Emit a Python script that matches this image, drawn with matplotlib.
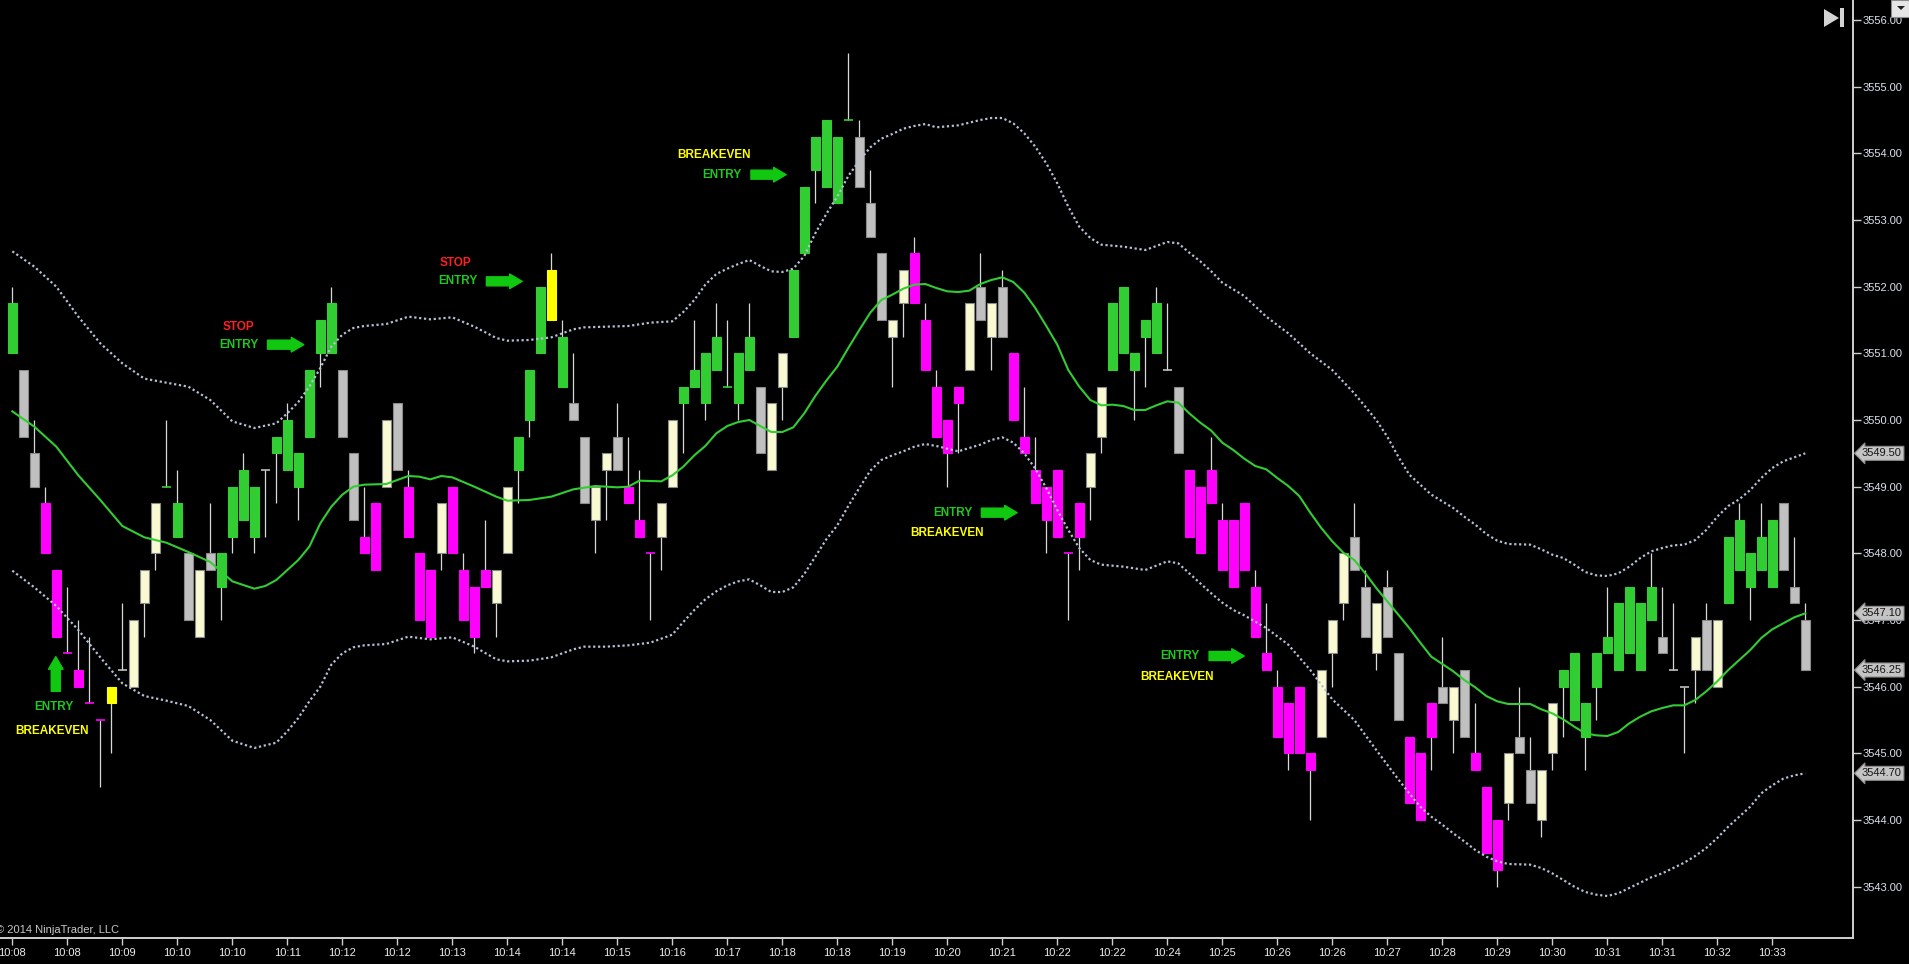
import matplotlib
matplotlib.use('Agg')
import matplotlib.pyplot as plt
from matplotlib.patches import Polygon, Rectangle
import numpy as np

plt.rcParams['font.family'] = ['Liberation Sans', 'DejaVu Sans']

# ---- bar data (one entry per bar, left to right) ----
# paint codes: G green, M magenta, S gray, C cream, Y yellow (signal bar)
paint = ("GSSMMMMMMY" "SCCCGGSCSG" "GGGSGGGGGG" "SSMMCSMMMC" "MMMMCCGGGY"
         "GSSCCSMMMC" "CGGGGGGGSC" "CGGGGGGSSS" "CCMMMMMCSC" "SMMMMMMMCC"
         "GGGGGSSMMM" "MMMMMMMMMC" "CCSSCSSMMM" "SCSMMMCSSC" "CGGGGGGGGG"
         "SSSCSCGGGG" "GSSS")

opens = [
    3551.0, 3550.75, 3549.5, 3548.75, 3547.75, 3546.5, 3546.25, 3545.75, 3545.5, 3545.75,
    3546.25, 3546.0, 3547.25, 3548.0, 3549.0, 3548.25, 3548.0, 3546.75, 3548.0, 3547.5,
    3548.25, 3548.5, 3548.25, 3549.25, 3549.5, 3549.25, 3549.0, 3549.75, 3551.0, 3551.0,
    3550.75, 3549.5, 3548.25, 3548.75, 3549.0, 3550.25, 3549.0, 3548.0, 3547.75, 3548.0,
    3549.0, 3547.75, 3547.5, 3547.75, 3547.25, 3548.0, 3549.25, 3550.0, 3551.0, 3551.5,
    3550.5, 3550.25, 3549.75, 3548.5, 3549.25, 3549.75, 3549.0, 3548.5, 3548.0, 3548.25,
    3549.0, 3550.25, 3550.5, 3550.25, 3550.75, 3550.5, 3550.25, 3550.75, 3550.5, 3549.25,
    3550.5, 3551.25, 3552.5, 3553.75, 3553.5, 3553.25, 3554.5, 3554.25, 3553.25, 3552.5,
    3551.25, 3551.75, 3552.5, 3551.5, 3550.5, 3550.0, 3550.5, 3550.75, 3552.0, 3551.25,
    3552.0, 3551.0, 3549.75, 3549.25, 3549.0, 3549.25, 3548.0, 3548.75, 3549.0, 3549.75,
    3550.75, 3551.0, 3550.75, 3551.25, 3551.0, 3550.75, 3550.5, 3549.25, 3549.0, 3549.25,
    3548.5, 3548.5, 3548.75, 3547.5, 3546.5, 3546.0, 3545.75, 3546.0, 3545.0, 3545.25,
    3546.5, 3547.25, 3548.25, 3547.5, 3546.5, 3547.5, 3546.5, 3545.25, 3545.0, 3545.75,
    3546.0, 3545.5, 3546.25, 3545.0, 3544.5, 3544.0, 3544.25, 3545.25, 3544.75, 3544.0,
    3545.0, 3546.0, 3545.5, 3545.25, 3546.0, 3546.5, 3546.25, 3546.5, 3546.25, 3547.0,
    3546.75, 3546.25, 3546.0, 3546.25, 3547.0, 3546.0, 3547.25, 3547.75, 3547.5, 3547.75,
    3547.5, 3548.75, 3547.5, 3547.0]

highs = [
    3552.0, 3550.75, 3550.0, 3549.0, 3547.75, 3547.5, 3547.0, 3546.75, 3545.5, 3546.0,
    3547.25, 3547.0, 3547.75, 3548.75, 3550.0, 3549.25, 3548.0, 3547.75, 3548.75, 3548.0,
    3549.0, 3549.5, 3549.0, 3549.25, 3549.75, 3550.25, 3549.5, 3550.75, 3551.5, 3552.0,
    3550.75, 3549.5, 3549.0, 3548.75, 3550.0, 3550.25, 3549.25, 3548.0, 3547.75, 3548.75,
    3549.0, 3548.0, 3547.5, 3548.5, 3547.75, 3549.0, 3549.75, 3550.75, 3552.0, 3552.5,
    3551.5, 3551.0, 3549.75, 3549.0, 3549.5, 3550.25, 3549.75, 3549.25, 3548.0, 3548.75,
    3550.0, 3550.5, 3551.5, 3551.0, 3551.75, 3551.5, 3551.0, 3551.75, 3550.5, 3550.25,
    3551.0, 3552.25, 3553.5, 3554.25, 3554.5, 3554.25, 3555.5, 3554.5, 3553.75, 3552.5,
    3551.5, 3552.25, 3552.75, 3551.75, 3550.75, 3550.0, 3550.5, 3551.75, 3552.5, 3551.75,
    3552.25, 3551.0, 3550.5, 3549.75, 3549.0, 3549.25, 3548.0, 3548.75, 3549.5, 3550.5,
    3551.75, 3552.0, 3551.0, 3551.5, 3552.0, 3551.75, 3550.5, 3549.25, 3549.0, 3549.75,
    3548.75, 3548.5, 3548.75, 3547.75, 3547.25, 3546.25, 3545.75, 3546.0, 3545.0, 3546.25,
    3547.0, 3548.0, 3548.75, 3547.75, 3547.25, 3547.75, 3546.5, 3545.25, 3545.0, 3545.75,
    3546.75, 3546.0, 3546.25, 3545.75, 3544.5, 3544.0, 3545.0, 3546.0, 3545.25, 3544.75,
    3545.75, 3546.25, 3546.5, 3545.75, 3546.5, 3547.5, 3547.25, 3547.5, 3547.25, 3548.0,
    3547.5, 3547.25, 3546.0, 3546.75, 3547.25, 3547.0, 3548.25, 3548.75, 3548.0, 3548.75,
    3548.5, 3548.75, 3548.25, 3547.25]

lows = [
    3551.0, 3549.75, 3549.0, 3548.0, 3546.75, 3546.5, 3546.0, 3545.75, 3544.5, 3545.0,
    3546.25, 3546.0, 3546.75, 3547.75, 3549.0, 3548.25, 3547.0, 3546.75, 3547.75, 3547.0,
    3548.0, 3548.5, 3548.0, 3548.25, 3548.75, 3549.25, 3548.5, 3549.75, 3550.5, 3551.0,
    3549.75, 3548.5, 3548.0, 3547.75, 3549.0, 3549.25, 3548.25, 3547.0, 3546.75, 3547.75,
    3548.0, 3547.0, 3546.5, 3547.5, 3546.75, 3548.0, 3548.75, 3549.75, 3551.0, 3551.5,
    3550.5, 3550.0, 3548.75, 3548.0, 3548.5, 3549.25, 3548.75, 3548.25, 3547.0, 3547.75,
    3549.0, 3549.5, 3550.5, 3550.0, 3550.75, 3550.5, 3550.0, 3550.75, 3549.5, 3549.25,
    3550.0, 3551.25, 3552.5, 3553.25, 3553.5, 3553.25, 3554.5, 3553.5, 3552.75, 3551.5,
    3550.5, 3551.25, 3551.75, 3550.75, 3549.75, 3549.0, 3549.5, 3550.75, 3551.5, 3550.75,
    3551.25, 3550.0, 3549.5, 3548.75, 3548.0, 3548.25, 3547.0, 3547.75, 3548.5, 3549.5,
    3550.75, 3551.0, 3550.0, 3550.5, 3551.0, 3550.75, 3549.5, 3548.25, 3548.0, 3548.75,
    3547.75, 3547.5, 3547.75, 3546.75, 3546.25, 3545.25, 3544.75, 3545.0, 3544.0, 3545.25,
    3546.0, 3547.0, 3547.75, 3546.75, 3546.25, 3546.75, 3545.5, 3544.25, 3544.0, 3544.75,
    3545.75, 3545.0, 3545.25, 3544.75, 3543.5, 3543.0, 3544.0, 3545.0, 3544.25, 3543.75,
    3544.75, 3545.25, 3545.5, 3544.75, 3545.5, 3546.5, 3546.25, 3546.5, 3546.25, 3547.0,
    3546.5, 3546.25, 3545.0, 3545.75, 3546.25, 3546.0, 3547.25, 3547.75, 3547.0, 3547.75,
    3547.5, 3547.75, 3547.25, 3546.25]

closes = [
    3551.75, 3549.75, 3549.0, 3548.0, 3546.75, 3546.5, 3546.0, 3545.75, 3545.5, 3546.0,
    3546.25, 3547.0, 3547.75, 3548.75, 3549.0, 3548.75, 3547.0, 3547.75, 3547.75, 3548.0,
    3549.0, 3549.25, 3549.0, 3549.25, 3549.75, 3550.0, 3549.5, 3550.75, 3551.5, 3551.75,
    3549.75, 3548.5, 3548.0, 3547.75, 3550.0, 3549.25, 3548.25, 3547.0, 3546.75, 3548.75,
    3548.0, 3547.0, 3546.75, 3547.5, 3547.75, 3549.0, 3549.75, 3550.75, 3552.0, 3552.25,
    3551.25, 3550.0, 3548.75, 3549.0, 3549.5, 3549.25, 3548.75, 3548.25, 3548.0, 3548.75,
    3550.0, 3550.5, 3550.75, 3551.0, 3551.25, 3550.5, 3551.0, 3551.25, 3549.5, 3550.25,
    3551.0, 3552.25, 3553.5, 3554.25, 3554.5, 3554.25, 3554.5, 3553.5, 3552.75, 3551.5,
    3551.5, 3552.25, 3551.75, 3550.75, 3549.75, 3549.5, 3550.25, 3551.75, 3551.5, 3551.75,
    3551.25, 3550.0, 3549.5, 3548.75, 3548.5, 3548.25, 3548.0, 3548.25, 3549.5, 3550.5,
    3551.75, 3552.0, 3551.0, 3551.5, 3551.75, 3550.75, 3549.5, 3548.25, 3548.0, 3548.75,
    3547.75, 3547.5, 3547.75, 3546.75, 3546.25, 3545.25, 3545.0, 3545.0, 3544.75, 3546.25,
    3547.0, 3548.0, 3547.75, 3546.75, 3547.25, 3546.75, 3545.5, 3544.25, 3544.0, 3545.25,
    3545.75, 3546.0, 3545.25, 3544.75, 3543.5, 3543.25, 3545.0, 3545.0, 3544.25, 3544.75,
    3545.75, 3546.25, 3546.5, 3545.75, 3546.5, 3546.75, 3547.25, 3547.5, 3547.25, 3547.5,
    3546.5, 3546.25, 3546.0, 3546.75, 3546.25, 3547.0, 3548.25, 3548.5, 3548.0, 3548.25,
    3548.5, 3547.75, 3547.25, 3546.25]

# ---- indicator readings (bar index, value) ----
mid_idx = [0, 2, 4, 6, 8, 10, 12, 14, 16, 18, 20, 22, 23, 24, 26, 27, 28, 29, 30, 31,
           32, 34, 36, 37, 38, 39, 40, 42, 44, 45, 47, 49, 51, 53, 55, 56, 57, 59, 60, 61,
           62, 63, 64, 65, 66, 67, 68, 69, 70, 71, 72, 73, 74, 75, 76, 77, 78, 79, 80, 81,
           82, 83, 84, 85, 86, 87, 88, 89, 90, 91, 92, 93, 94, 95, 96, 97, 98, 99, 100, 101,
           102, 103, 104, 105, 106, 107, 108, 109, 110, 111, 112, 113, 114, 115, 116, 117,
           118, 119, 120, 121, 122, 123, 124, 125, 126, 127, 128, 129, 130, 131, 132, 133,
           134, 135, 136, 138, 139, 140, 141, 142, 143, 144, 145, 146, 147, 148, 149, 150,
           151, 152, 153, 154, 155, 156, 157, 158, 159, 160, 161, 162, 163]
mid_val = [3550.13, 3549.9, 3549.6, 3549.17, 3548.8, 3548.41, 3548.24, 3548.16, 3548.02, 3547.87,
           3547.58, 3547.47, 3547.51, 3547.6, 3547.9, 3548.1, 3548.45, 3548.7, 3548.88, 3549.0,
           3549.03, 3549.04, 3549.16, 3549.15, 3549.11, 3549.16, 3549.14, 3549.0, 3548.85, 3548.79,
           3548.8, 3548.85, 3548.96, 3549.01, 3548.99, 3549.0, 3549.09, 3549.08, 3549.17, 3549.3,
           3549.47, 3549.61, 3549.8, 3549.91, 3549.97, 3550.0, 3549.91, 3549.82, 3549.82, 3549.89,
           3550.1, 3550.36, 3550.59, 3550.8, 3551.08, 3551.35, 3551.61, 3551.8, 3551.88, 3551.97,
           3552.03, 3552.04, 3551.98, 3551.93, 3551.92, 3551.94, 3552.04, 3552.1, 3552.14, 3552.07,
           3551.91, 3551.68, 3551.41, 3551.13, 3550.75, 3550.5, 3550.3, 3550.22, 3550.23, 3550.21,
           3550.15, 3550.15, 3550.22, 3550.28, 3550.26, 3550.1, 3549.96, 3549.84, 3549.66, 3549.55,
           3549.42, 3549.31, 3549.26, 3549.13, 3549.01, 3548.86, 3548.61, 3548.38, 3548.18, 3548.01,
           3547.9, 3547.7, 3547.48, 3547.28, 3547.08, 3546.88, 3546.66, 3546.45, 3546.34, 3546.23,
           3546.1, 3545.99, 3545.86, 3545.78, 3545.74, 3545.74, 3545.66, 3545.6, 3545.51, 3545.4,
           3545.3, 3545.27, 3545.26, 3545.32, 3545.45, 3545.55, 3545.63, 3545.68, 3545.72, 3545.72,
           3545.8, 3545.93, 3546.08, 3546.25, 3546.4, 3546.55, 3546.73, 3546.86, 3546.95, 3547.04,
           3547.1]

upper_idx = [0, 2, 4, 6, 8, 10, 12, 14, 16, 18, 20, 22, 24, 25, 26, 27, 28, 29, 30, 31,
             32, 34, 36, 38, 40, 42, 44, 45, 47, 49, 51, 52, 54, 56, 58, 60, 61, 62, 63, 64,
             65, 66, 67, 68, 69, 70, 71, 72, 73, 74, 75, 76, 77, 78, 79, 80, 81, 82, 83, 84,
             86, 88, 89, 90, 91, 92, 93, 94, 95, 96, 97, 98, 99, 101, 103, 105, 106, 107, 108,
             109, 110, 111, 112, 114, 116, 118, 120, 122, 124, 125, 126, 127, 128, 129, 130,
             131, 132, 133, 134, 135, 136, 138, 139, 140, 141, 142, 143, 144, 145, 146, 147,
             148, 149, 150, 151, 152, 153, 154, 155, 156, 157, 158, 159, 160, 161, 162, 163]
upper_val = [3552.53, 3552.3, 3552.0, 3551.55, 3551.15, 3550.85, 3550.62, 3550.56, 3550.5, 3550.3,
             3549.98, 3549.88, 3549.95, 3550.1, 3550.27, 3550.5, 3550.78, 3551.1, 3551.28, 3551.38,
             3551.41, 3551.44, 3551.55, 3551.51, 3551.54, 3551.4, 3551.23, 3551.19, 3551.2, 3551.24,
             3551.36, 3551.39, 3551.4, 3551.41, 3551.46, 3551.48, 3551.62, 3551.8, 3552.03, 3552.19,
             3552.27, 3552.34, 3552.4, 3552.31, 3552.23, 3552.22, 3552.27, 3552.46, 3552.8, 3553.09,
             3553.35, 3553.66, 3553.89, 3554.09, 3554.22, 3554.29, 3554.37, 3554.41, 3554.44, 3554.39,
             3554.42, 3554.5, 3554.53, 3554.53, 3554.45, 3554.3, 3554.1, 3553.85, 3553.55, 3553.2,
             3552.9, 3552.73, 3552.63, 3552.6, 3552.55, 3552.67, 3552.65, 3552.51, 3552.38,
             3552.23, 3552.06, 3551.96, 3551.86, 3551.55, 3551.3, 3551.0, 3550.75, 3550.4, 3550.0, 3549.75,
             3549.45, 3549.18, 3549.03, 3548.88, 3548.78, 3548.68, 3548.55, 3548.43, 3548.29, 3548.19,
             3548.14, 3548.13, 3548.06, 3547.98, 3547.93, 3547.83, 3547.72, 3547.67, 3547.66, 3547.7,
             3547.8, 3547.93, 3548.03, 3548.08, 3548.12, 3548.13, 3548.2, 3548.35, 3548.55, 3548.71,
             3548.81, 3548.95, 3549.13, 3549.28, 3549.38, 3549.44, 3549.5]

lower_idx = [0, 2, 4, 6, 8, 10, 12, 14, 16, 18, 20, 22, 24, 25, 26, 27, 28, 29, 30, 31,
             32, 34, 36, 38, 40, 42, 44, 45, 47, 49, 51, 52, 54, 56, 58, 60, 61, 62, 63, 64,
             65, 66, 67, 68, 69, 70, 71, 72, 73, 74, 75, 76, 77, 78, 79, 80, 81, 82, 83, 84,
             86, 88, 89, 90, 91, 92, 93, 94, 95, 96, 97, 98, 99, 101, 103, 105, 106, 107, 108,
             109, 110, 111, 112, 114, 116, 118, 120, 122, 124, 125, 126, 127, 128, 129, 130,
             131, 132, 133, 134, 135, 136, 138, 139, 140, 141, 142, 143, 144, 145, 146, 147,
             148, 149, 150, 151, 152, 153, 154, 155, 156, 157, 158, 159, 160, 161, 162, 163]
lower_val = [3547.74, 3547.49, 3547.21, 3546.85, 3546.44, 3546.05, 3545.86, 3545.79, 3545.71, 3545.5,
             3545.19, 3545.08, 3545.16, 3545.33, 3545.53, 3545.78, 3546.0, 3546.33, 3546.5, 3546.59,
             3546.62, 3546.64, 3546.75, 3546.71, 3546.74, 3546.6, 3546.41, 3546.38, 3546.39, 3546.44,
             3546.56, 3546.6, 3546.6, 3546.62, 3546.66, 3546.78, 3546.97, 3547.15, 3547.31, 3547.43,
             3547.52, 3547.58, 3547.61, 3547.52, 3547.42, 3547.42, 3547.49, 3547.69, 3547.95, 3548.21,
             3548.42, 3548.71, 3548.98, 3549.24, 3549.4, 3549.47, 3549.53, 3549.6, 3549.64, 3549.61,
             3549.53, 3549.63, 3549.7, 3549.74, 3549.66, 3549.5, 3549.27, 3548.98, 3548.65, 3548.35,
             3548.08, 3547.9, 3547.83, 3547.8, 3547.75, 3547.88, 3547.85, 3547.7, 3547.55,
             3547.4, 3547.26, 3547.15, 3547.07, 3546.88, 3546.63, 3546.25, 3545.81, 3545.5, 3545.05, 3544.83,
             3544.61, 3544.4, 3544.2, 3544.05, 3543.93, 3543.8, 3543.68, 3543.55, 3543.45, 3543.38,
             3543.34, 3543.33, 3543.28, 3543.2, 3543.1, 3543.0, 3542.92, 3542.88, 3542.86, 3542.9,
             3542.98, 3543.06, 3543.14, 3543.2, 3543.28, 3543.36, 3543.46, 3543.58, 3543.73, 3543.9,
             3544.05, 3544.2, 3544.4, 3544.52, 3544.62, 3544.67, 3544.7]

time_labels = ['10:08', '10:08', '10:09', '10:10', '10:10', '10:11', '10:12', '10:12', '10:13',
               '10:14', '10:14', '10:15', '10:16', '10:17', '10:18', '10:18', '10:19', '10:20',
               '10:21', '10:22', '10:22', '10:24', '10:25', '10:26', '10:26', '10:27', '10:28',
               '10:29', '10:30', '10:31', '10:31', '10:32', '10:33']

# trade markers: (text, bar position, price level, colour)
marker_texts = [
    ('ENTRY', 3.8, 3545.70, '#1ec81e'), ('BREAKEVEN', 3.65, 3545.33, '#ffff00'),
    ('STOP', 20.55, 3551.40, '#ff2020'), ('ENTRY', 20.6, 3551.13, '#1ec81e'),
    ('STOP', 40.3, 3552.36, '#ff2020'), ('ENTRY', 40.5, 3552.08, '#1ec81e'),
    ('BREAKEVEN', 63.75, 3553.97, '#ffff00'), ('ENTRY', 64.5, 3553.68, '#1ec81e'),
    ('ENTRY', 85.5, 3548.61, '#1ec81e'), ('BREAKEVEN', 85.0, 3548.30, '#ffff00'),
    ('ENTRY', 106.1, 3546.46, '#1ec81e'), ('BREAKEVEN', 105.9, 3546.15, '#ffff00'),
]
# arrows: (tail x, tail y, head x, head y)
marker_arrows = [
    (3.95, 3545.93, 3.95, 3546.45),
    (23.2, 3551.13, 26.5, 3551.13),
    (43.1, 3552.08, 46.35, 3552.08),
    (67.15, 3553.68, 70.35, 3553.68),
    (88.1, 3548.61, 91.35, 3548.61),
    (108.8, 3546.46, 112.0, 3546.46),
]

face = {'G': '#32cd32', 'M': '#ff00ff', 'S': '#c0c0c0', 'C': '#fafad2', 'Y': '#ffff00'}
edge = {'G': '#32cd32', 'M': '#ff00ff', 'S': '#8a8a8a', 'C': '#8a8a8a', 'Y': '#ffff00'}

W, H = 1909, 964
fig = plt.figure(figsize=(W / 100, H / 100), dpi=100, facecolor='black')
ax = fig.add_axes([0, 26 / H, 1853 / W, 938 / H], facecolor='black')

x = np.arange(len(closes))
o = np.array(opens)
c = np.array(closes)
top = np.maximum(o, c)
bot = np.minimum(o, c)
doji = o == c

# wicks
ax.vlines(x, lows, highs, color='#d8d8d8', lw=0.9, zorder=2)

# bodies
nd = ~doji
ax.bar(x[nd], (top - bot)[nd], bottom=bot[nd], width=0.8,
       color=[face[paint[i]] for i in x[nd]],
       edgecolor=[edge[paint[i]] for i in x[nd]], linewidth=0.8, zorder=3)
# doji dashes
ax.hlines(o[doji], x[doji] - 0.4, x[doji] + 0.4,
          colors=[face[paint[i]] for i in x[doji]], lw=1.2, zorder=3)

# moving average and bands
ax.plot(mid_idx, mid_val, color='#32cd32', lw=1.5, zorder=4)
ax.plot(upper_idx, upper_val, color='#b4c0d4', lw=1.6, ls=(0, (1, 1.2)), zorder=4)
ax.plot(lower_idx, lower_val, color='#b4c0d4', lw=1.6, ls=(0, (1, 1.2)), zorder=4)

# trade annotations
for txt, bx, py, col in marker_texts:
    ax.text(bx, py, txt, color=col, fontsize=8.5, fontweight='bold',
            ha='center', va='center', zorder=6)
for x0, y0, x1, y1 in marker_arrows:
    ax.annotate('', xy=(x1, y1), xytext=(x0, y0),
                arrowprops=dict(arrowstyle='simple,head_length=0.9,head_width=1.05,tail_width=0.65',
                                color='#10c810', shrinkA=0, shrinkB=0, mutation_scale=10),
                zorder=6)

ax.set_xlim(-1.12, 167.34)
ax.set_ylim(3542.23, 3556.3)

ax.set_xticks(np.arange(0, len(closes), 5))
ax.set_xticklabels(time_labels)
ax.set_yticks(np.arange(3543, 3557))
ax.set_yticklabels([f'{v:.2f}' for v in np.arange(3543, 3557)])
ax.yaxis.tick_right()
ax.tick_params(axis='y', direction='out', length=6, width=1, color='#d0d0d0',
               labelcolor='#dce2ee', labelsize=8, pad=1)
ax.tick_params(axis='x', direction='out', length=5, width=1, color='#d0d0d0',
               labelcolor='#ececec', labelsize=8, pad=2)
for s in ['left', 'top']:
    ax.spines[s].set_visible(False)
for s in ['right', 'bottom']:
    ax.spines[s].set_color('#d0d0d0')
    ax.spines[s].set_linewidth(1.4)

# price markers on the right axis
for v in [upper_val[-1], mid_val[-1], closes[-1], lower_val[-1]]:
    ax.annotate(f'{v:.2f}', xy=(1, v), xycoords=('axes fraction', 'data'),
                xytext=(9, 0), textcoords='offset pixels', ha='left', va='center',
                fontsize=8, color='#151515', annotation_clip=False, zorder=7,
                bbox=dict(boxstyle='larrow,pad=0.18', fc='#c4c4c4', ec='#8c8c8c', lw=0.8))

ax.text(-0.002, 0.003, '\u00a9 2014 NinjaTrader, LLC', transform=ax.transAxes,
        fontsize=8, color='#c8c8c8', ha='left', va='bottom')


def px(xp, yp):
    return (xp / W, 1 - yp / H)


# "go to end" icon and dropdown button in the top right corner
fig.add_artist(Polygon([px(1824, 9), px(1824, 27), px(1839, 18)], closed=True,
                       fc='#d4d4d4', ec='none', transform=fig.transFigure))
fig.add_artist(Rectangle(px(1840, 27), 4 / W, 19 / H, fc='#d4d4d4', ec='none',
                         transform=fig.transFigure))
fig.add_artist(Rectangle(px(1891, 17), 18 / W, 17 / H, fc='#e6e6e6', ec='#8c8c8c', lw=0.8,
                         transform=fig.transFigure))
fig.add_artist(Polygon([px(1897, 6), px(1905, 6), px(1901, 10)], closed=True,
                       fc='#202020', ec='none', transform=fig.transFigure))

fig.savefig('out.png', dpi=100, facecolor='black')
